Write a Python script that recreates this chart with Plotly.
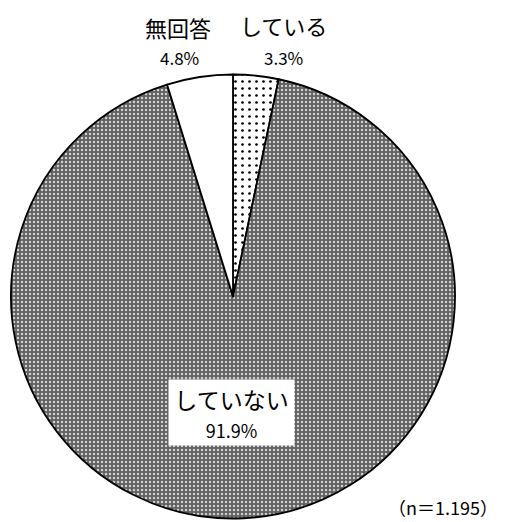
import plotly.graph_objects as go

labels = ["している", "していない", "無回答"]
values = [3.3, 91.9, 4.8]
pct_text = ["3.3%", "91.9%", "4.8%"]
n_label = "（n＝1.195）"

W, H = 510, 522
OFF = 8  # page body margin
FONT = "Noto Sans CJK JP"

def px(x):
    return (x - OFF) / W

def py(y):
    return 1 - (y - OFF) / H

fig = go.Figure()
fig.add_trace(go.Pie(
    labels=labels,
    values=values,
    sort=False,
    direction="clockwise",
    rotation=0,
    textinfo="none",
    hoverinfo="label+percent",
    showlegend=False,
    domain=dict(x=[px(11), px(455)], y=[py(519), py(74)]),
    marker=dict(
        colors=["#ffffff", "#7a7a7a", "#ffffff"],
        line=dict(color="#000000", width=1.8),
        pattern=dict(
            shape=[".", ".", ""],
            fillmode="replace",
            bgcolor=["#ffffff", "#606060", "#ffffff"],
            fgcolor=["#000000", "#d0d0d0", "#ffffff"],
            size=[7, 4, 6],
            solidity=[0.12, 0.3, 0.1],
        ),
    ),
))

ann = []
ann.append(dict(x=px(178), y=py(27), text=labels[2], font=dict(size=22)))
ann.append(dict(x=px(179), y=py(57), text=pct_text[2], font=dict(size=17)))
ann.append(dict(x=px(283), y=py(25), text=labels[0], font=dict(size=22)))
ann.append(dict(x=px(283), y=py(57), text=pct_text[0], font=dict(size=17)))
ann.append(dict(
    x=px(231.5), y=py(412.5),
    text=labels[1] + "<br><span style='font-size:18px'>" + pct_text[1] + "</span>",
    font=dict(size=23), bgcolor="#ffffff", width=123, height=63,
    borderpad=1,
))
ann.append(dict(x=px(443), y=py(507), text=n_label, font=dict(size=18)))

for a in ann:
    a.update(xref="paper", yref="paper", showarrow=False,
             xanchor="center", yanchor="middle")
    a["font"].update(family=FONT, color="#000000")

fig.update_layout(
    width=W, height=H,
    margin=dict(l=0, r=0, t=0, b=0),
    paper_bgcolor="#ffffff",
    plot_bgcolor="#ffffff",
    annotations=ann,
    font=dict(family=FONT, color="#000000"),
)

fig.write_html("out.html")
